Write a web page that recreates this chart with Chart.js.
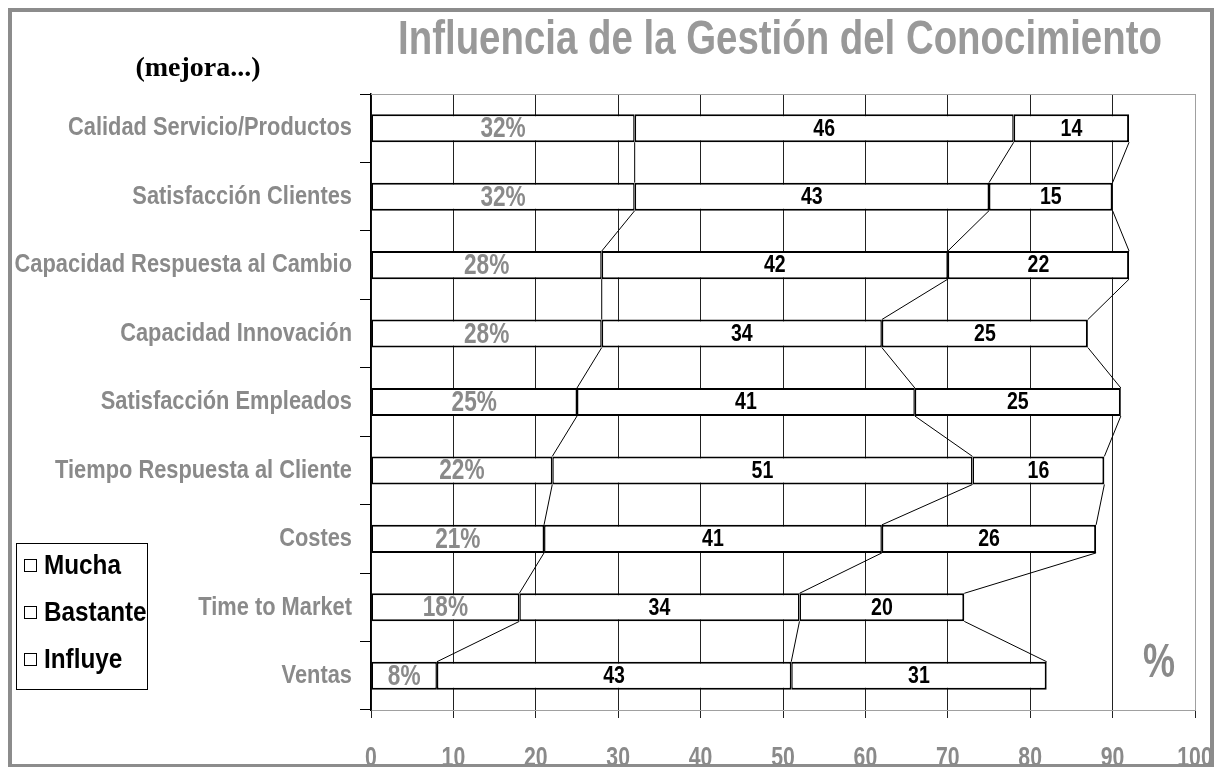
<!DOCTYPE html>
<html>
<head>
<meta charset="utf-8">
<script src="https://cdn.jsdelivr.net/npm/chart.js@4/dist/chart.umd.min.js"></script>
<style>
  body { margin:0; background:#fff; }
  #wrap { width:1219px; height:767px; }
</style>
</head>
<body>
<div id="wrap"><canvas id="gcChart" width="1219" height="767"></canvas></div>
<script>
// datos
const categories = [
  "Calidad Servicio/Productos",
  "Satisfacción Clientes",
  "Capacidad Respuesta al Cambio",
  "Capacidad Innovación",
  "Satisfacción Empleados",
  "Tiempo Respuesta al Cliente",
  "Costes",
  "Time to Market",
  "Ventas"
];
const mucha    = [32, 32, 28, 28, 25, 22, 21, 18, 8];
const bastante = [46, 43, 42, 34, 41, 51, 41, 34, 43];
const influye  = [14, 15, 22, 25, 25, 16, 26, 20, 31];
const xTicks = [0, 10, 20, 30, 40, 50, 60, 70, 80, 90, 100];

const SANS = '"Liberation Sans", Arial, sans-serif';
const GRAY = "#8a8a8a";

// texto comprimido / estirado, como el Arial Narrow del original
function drawText(ctx, txt, x, y, o) {
  ctx.save();
  ctx.font = o.font;
  ctx.fillStyle = o.color || "#000";
  ctx.textAlign = o.align || "center";
  ctx.textBaseline = o.baseline || "middle";
  ctx.translate(x, y);
  ctx.scale(o.sx || 1, o.sy || 1);
  ctx.fillText(txt, 0, 0);
  ctx.restore();
}

const extras = {
  id: "extras",
  beforeDatasetsDraw(chart) {
    const a = chart.chartArea, ctx = chart.ctx;
    ctx.save();
    ctx.strokeStyle = "#a0a0a0";
    ctx.lineWidth = 1;
    ctx.beginPath();
    ctx.moveTo(a.left, a.top + 0.5);
    ctx.lineTo(a.right, a.top + 0.5);
    ctx.stroke();
    ctx.restore();
  },
  afterDatasetsDraw(chart) {
    const ctx = chart.ctx;
    // lineas de serie entre barras
    ctx.save();
    ctx.strokeStyle = "#000";
    ctx.lineWidth = 1;
    chart.data.datasets.forEach((ds, di) => {
      const bars = chart.getDatasetMeta(di).data;
      for (let i = 0; i < bars.length - 1; i++) {
        const b1 = bars[i], b2 = bars[i + 1];
        ctx.beginPath();
        ctx.moveTo(b1.x, b1.y + b1.height / 2);
        ctx.lineTo(b2.x, b2.y - b2.height / 2);
        ctx.stroke();
      }
    });
    ctx.restore();
    // etiquetas dentro de las barras
    chart.data.datasets.forEach((ds, di) => {
      const bars = chart.getDatasetMeta(di).data;
      bars.forEach((b, i) => {
        const cx = (b.x + b.base) / 2;
        if (di === 0) {
          drawText(ctx, ds.data[i] + "%", cx, b.y + 1,
            { font: "bold 29px " + SANS, color: GRAY, sx: 0.78 });
        } else {
          drawText(ctx, String(ds.data[i]), cx, b.y + 1,
            { font: "bold 23px " + SANS, color: "#000", sx: 0.85 });
        }
      });
    });
  },
  afterDraw(chart) {
    const ctx = chart.ctx;
    const xs = chart.scales.x, ys = chart.scales.y;

    // etiquetas de categorias
    categories.forEach((c, i) => {
      drawText(ctx, c, 352, ys.getPixelForValue(i),
        { font: "bold 26px " + SANS, color: GRAY, align: "right", sx: 0.84 });
    });
    // etiquetas del eje x
    xTicks.forEach(v => {
      drawText(ctx, String(v), xs.getPixelForValue(v), 766,
        { font: "bold 28px " + SANS, color: GRAY, baseline: "alphabetic", sx: 0.76 });
    });

    // titulo
    drawText(ctx, "Influencia de la Gestión del Conocimiento", 780, 41,
      { font: "bold 48px " + SANS, color: "#999999", sx: 0.8 });
    drawText(ctx, "(mejora...)", 198, 69,
      { font: 'bold 28px "Liberation Serif", "Times New Roman", serif', color: "#000" });
    drawText(ctx, "%", 1159, 664, { font: "bold 48px " + SANS, color: GRAY, sx: 0.75 });

    // leyenda
    ctx.save();
    ctx.fillStyle = "#fff";
    ctx.fillRect(16, 543, 131, 146);
    ctx.strokeStyle = "#000";
    ctx.lineWidth = 1;
    ctx.strokeRect(16.5, 543.5, 131, 146);
    const ly = [566, 613, 660];
    chart.data.datasets.forEach((ds, di) => {
      ctx.strokeStyle = "#000";
      ctx.lineWidth = 1;
      ctx.strokeRect(24.5, ly[di] - 6.5, 12, 12);
      drawText(ctx, ds.label, 44, ly[di] + 1,
        { font: "bold 27px " + SANS, color: "#000", align: "left", sx: 0.9 });
    });
    ctx.restore();

    // marco exterior
    ctx.save();
    ctx.strokeStyle = "#8c8c8c";
    ctx.lineWidth = 4;
    ctx.strokeRect(10, 10, 1202, 756);
    ctx.restore();
  }
};

const gcChart = new Chart(document.getElementById("gcChart"), {
  type: "bar",
  data: {
    labels: categories,
    datasets: [
      { label: "Mucha", data: mucha, backgroundColor: "#fff", borderColor: "#000",
        borderWidth: {top: 2, bottom: 2, left: 1.5, right: 1.5}, borderSkipped: false },
      { label: "Bastante", data: bastante, backgroundColor: "#fff", borderColor: "#000",
        borderWidth: {top: 2, bottom: 2, left: 1.5, right: 1.5}, borderSkipped: false },
      { label: "Influye", data: influye, backgroundColor: "#fff", borderColor: "#000",
        borderWidth: {top: 2, bottom: 2, left: 1.5, right: 2}, borderSkipped: false }
    ]
  },
  options: {
    indexAxis: "y",
    responsive: false,
    animation: false,
    devicePixelRatio: 1,
    layout: { padding: { top: 94, right: 24, left: 0, bottom: 0 } },
    barPercentage: 0.41,
    categoryPercentage: 1,
    plugins: {
      legend: { display: false },
      tooltip: { enabled: false },
      title: { display: false }
    },
    scales: {
      x: {
        stacked: true,
        min: 0,
        max: 100,
        afterBuildTicks: s => { s.ticks = xTicks.map(v => ({ value: v })); },
        afterFit: s => { s.height = 57; s.paddingLeft = 0; s.paddingRight = 0; },
        grid: {
          color: c => (c.tick && c.tick.value === 100) ? "#a0a0a0" : "#222",
          tickColor: "#222",
          lineWidth: 1,
          tickLength: 8
        },
        border: { color: "#a0a0a0", width: 1 },
        ticks: { display: false }
      },
      y: {
        stacked: true,
        afterFit: s => { s.width = 371; },
        grid: {
          drawOnChartArea: false,
          offset: true,
          color: "#000",
          tickLength: 11
        },
        border: { color: "#000", width: 1.5 },
        ticks: { display: false }
      }
    }
  },
  plugins: [extras]
});
</script>
</body>
</html>
